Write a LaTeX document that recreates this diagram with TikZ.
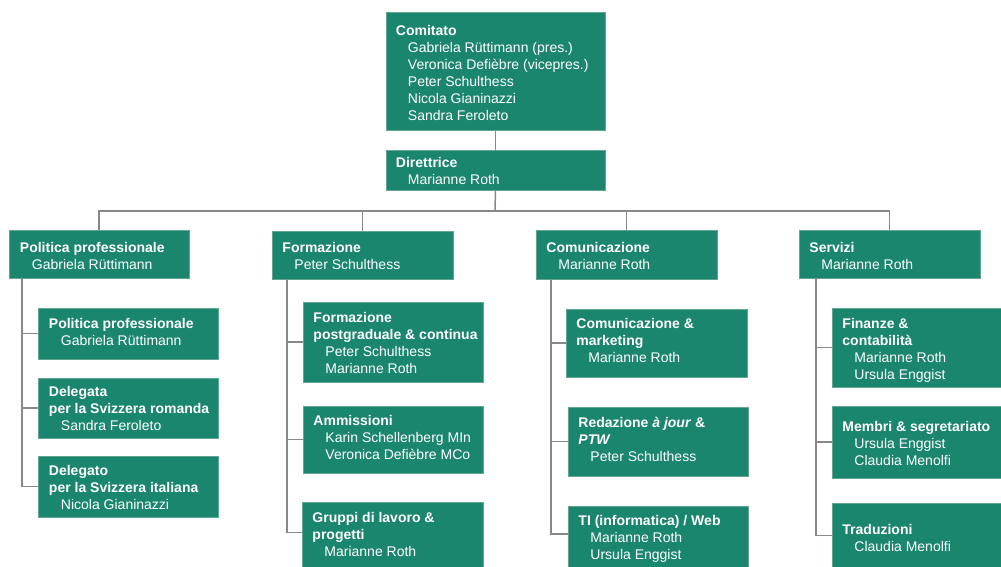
\documentclass[tikz,border=0pt]{standalone}
\usepackage{fontspec}
\setmainfont{Liberation Sans}
\usetikzlibrary{fit}
\definecolor{boxgreen}{RGB}{27,134,110}
\definecolor{boxedge}{RGB}{100,165,145}
\definecolor{linegray}{RGB}{136,136,136}
\newcommand\hd[1]{\textbf{#1}}
\newcommand\nm[1]{\hspace*{12pt}#1}
\tikzset{
  box/.style={fill=boxgreen, draw=boxedge, line width=0.5pt, inner sep=0pt},
  txt/.style={anchor=west, inner sep=0pt, align=left, text=white, font=\fontsize{14}{17}\selectfont},
  conn/.style={draw=linegray, line width=1.5pt}
}
\begin{document}
\begin{tikzpicture}[x=1pt,y=-1pt]
\useasboundingbox (0,0) rectangle (1001,567);
% boxes
\node[box, fit={(386,12) (605,130)}] (com) {};
\node[box, fit={(386,150) (605,190)}] (dir) {};
\node[box, fit={(9,230) (189,278)}] (pol) {};
\node[box, fit={(272,231) (453,279)}] (for) {};
\node[box, fit={(536,230) (717,279)}] (kom) {};
\node[box, fit={(799,230) (980,278)}] (ser) {};
\node[box, fit={(38,308) (218,359)}] (p1) {};
\node[box, fit={(38,378) (218,438)}] (p2) {};
\node[box, fit={(38,456) (218,517)}] (p3) {};
\node[box, fit={(303,302) (483,382)}] (f1) {};
\node[box, fit={(303,406) (483,473)}] (f2) {};
\node[box, fit={(302,502) (483,567)}] (f3) {};
\node[box, fit={(566,309) (747,377)}] (c1) {};
\node[box, fit={(568,407) (748,476)}] (c2) {};
\node[box, fit={(568,506) (748,568)}] (c3) {};
\node[box, fit={(832,308) (1002,387)}] (s1) {};
\node[box, fit={(832,406) (1002,478)}] (s2) {};
\node[box, fit={(832,503) (1002,568)}] (s3) {};
% texts
\node[txt] (tcom) at ([xshift=10pt,yshift=-2pt]com.west) {\hd{Comitato}\\\nm{Gabriela Rüttimann (pres.)}\\\nm{Veronica Defièbre (vicepres.)}\\\nm{Peter Schulthess}\\\nm{Nicola Gianinazzi}\\\nm{Sandra Feroleto}};
\node[txt] (tdir) at ([xshift=10pt,yshift=-1pt]dir.west) {\hd{Direttrice}\\\nm{Marianne Roth}};
\node[txt] (tpol) at ([xshift=11pt,yshift=-2pt]pol.west) {\hd{Politica professionale}\\\nm{Gabriela Rüttimann}};
\node[txt] (tfor) at ([xshift=10.5pt,yshift=-1pt]for.west) {\hd{Formazione}\\\nm{Peter Schulthess}};
\node[txt] (tkom) at ([xshift=10.5pt,yshift=-1pt]kom.west) {\hd{Comunicazione}\\\nm{Marianne Roth}};
\node[txt] (tser) at ([xshift=10.5pt,yshift=-2pt]ser.west) {\hd{Servizi}\\\nm{Marianne Roth}};
\node[txt] (tp1) at ([xshift=11pt,yshift=2pt]p1.west) {\hd{Politica professionale}\\\nm{Gabriela Rüttimann}};
\node[txt] (tp2) at ([xshift=11pt]p2.west) {\hd{Delegata}\\\hd{per la Svizzera romanda}\\\nm{Sandra Feroleto}};
\node[txt] (tp3) at ([xshift=11pt,yshift=-1pt]p3.west) {\hd{Delegato}\\\hd{per la Svizzera italiana}\\\nm{Nicola Gianinazzi}};
\node[txt] (tf1) at ([xshift=10.5pt,yshift=-1pt]f1.west) {\hd{Formazione}\\\hd{postgraduale \& continua}\\\nm{Peter Schulthess}\\\nm{Marianne Roth}};
\node[txt] (tf2) at ([xshift=10.5pt,yshift=2pt]f2.west) {\hd{Ammissioni}\\\nm{Karin Schellenberg MIn}\\\nm{Veronica Defièbre MCo}};
\node[txt] (tf3) at ([xshift=10.5pt]f3.west) {\hd{Gruppi di lavoro \&}\\\hd{progetti}\\\nm{Marianne Roth}};
\node[txt] (tc1) at ([xshift=10.5pt,yshift=3pt]c1.west) {\hd{Comunicazione \&}\\\hd{marketing}\\\nm{Marianne Roth}};
\node[txt] (tc2) at ([xshift=10.5pt,yshift=2pt]c2.west) {\textbf{Redazione \textit{à jour} \&}\\\textbf{\textit{PTW}}\\\nm{Peter Schulthess}};
\node[txt] (tc3) at ([xshift=10.5pt,yshift=-2pt]c3.west) {\hd{TI (informatica) / Web}\\\nm{Marianne Roth}\\\nm{Ursula Enggist}};
\node[txt] (ts1) at ([xshift=10.5pt,yshift=-3pt]s1.west) {\hd{Finanze \&}\\\hd{contabilità}\\\nm{Marianne Roth}\\\nm{Ursula Enggist}};
\node[txt] (ts2) at ([xshift=10.5pt,yshift=-1pt]s2.west) {\hd{Membri \& segretariato}\\\nm{Ursula Enggist}\\\nm{Claudia Menolfi}};
\node[txt] (ts3) at ([xshift=10.5pt,yshift=-2pt]s3.west) {\hd{Traduzioni}\\\nm{Claudia Menolfi}};
% connectors
\coordinate (bus) at (495,211);
\draw[conn] (com) -- (dir);
\draw[conn] (dir.south) -- (bus);
\draw[conn] (pol.north) |- (bus -| ser.north) -- (ser.north);
\draw[conn] (for.north) -- (for.north |- bus);
\draw[conn] (kom.north) -- (kom.north |- bus);
\coordinate (polt) at (22,278);
\coordinate (fort) at (287,279);
\coordinate (komt) at (551,279);
\coordinate (sert) at (816,278);
\draw[conn] (polt) |- (p3.west);
\draw[conn] (polt |- p1.west) -- (p1.west);
\draw[conn] (polt |- p2.west) -- (p2.west);
\draw[conn] (fort) |- ([yshift=2pt]f3.west);
\draw[conn] (fort |- f1.west) -- (f1.west);
\draw[conn] (fort |- f2.west) -- (f2.west);
\draw[conn] (komt) |- ([yshift=3pt]c3.west);
\draw[conn] (komt |- c1.west) -- (c1.west);
\draw[conn] (komt |- c2.west) -- (c2.west);
\draw[conn] (sert) |- (s3.west);
\draw[conn] (sert |- s1.west) -- (s1.west);
\draw[conn] (sert |- s2.west) -- (s2.west);
\end{tikzpicture}
\end{document}
